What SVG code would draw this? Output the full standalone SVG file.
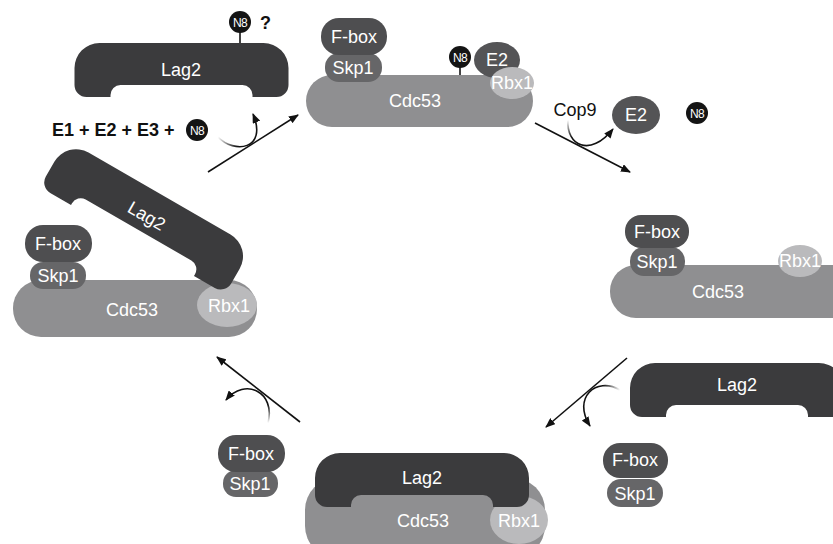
<svg xmlns="http://www.w3.org/2000/svg" width="833" height="544" viewBox="0 0 833 544">
  <defs>
    <style>
      .lag2 { fill: #3b3b3d; }
      .fbox { fill: #4e4e50; }
      .skp1 { fill: #666668; }
      .cdc53 { fill: #8f8f91; }
      .rbx1 { fill: #bababc; }
      .e2 { fill: #545456; }
      .n8 { fill: #141414; }
      .lbl { font-family: "Liberation Sans", Arial, sans-serif; font-size: 18px; fill: #ffffff; text-anchor: middle; }
      .n8t { font-family: "Liberation Sans", Arial, sans-serif; font-size: 12px; fill: #ffffff; text-anchor: middle; letter-spacing: -0.6px; }
      .blk { font-family: "Liberation Sans", Arial, sans-serif; font-size: 18px; fill: #111111; }
      .bold { font-weight: bold; }
      .stick { stroke: #141414; stroke-width: 1.6; }
      .arrow { fill: none; stroke: #111111; stroke-width: 1.6; marker-end: url(#head); }
    </style>
    <marker id="head" viewBox="0 0 10 8" refX="9" refY="4" markerWidth="10" markerHeight="8" markerUnits="userSpaceOnUse" orient="auto">
      <path d="M0,0 L10,4 L0,8 Z" fill="#111111"/>
    </marker>
    <!-- curved side arrows fade in at their tails -->
    <linearGradient id="fade1" gradientUnits="userSpaceOnUse" x1="218" y1="137" x2="236" y2="149">
      <stop offset="0" stop-color="#ffffff"/><stop offset="1" stop-color="#111111"/>
    </linearGradient>
    <linearGradient id="fade2" gradientUnits="userSpaceOnUse" x1="568" y1="120" x2="570" y2="138">
      <stop offset="0" stop-color="#ffffff"/><stop offset="1" stop-color="#111111"/>
    </linearGradient>
    <linearGradient id="fade3" gradientUnits="userSpaceOnUse" x1="620" y1="390" x2="603" y2="385">
      <stop offset="0" stop-color="#ffffff"/><stop offset="1" stop-color="#111111"/>
    </linearGradient>
    <linearGradient id="fade4" gradientUnits="userSpaceOnUse" x1="268" y1="423" x2="270" y2="405">
      <stop offset="0" stop-color="#ffffff"/><stop offset="1" stop-color="#111111"/>
    </linearGradient>
    <!-- Lag2 bar with its binding notch on the lower side, centred on 0,0 -->
    <path id="lag2shape" d="M -82,-27 H 82 A 25 25 0 0 1 107,-2 V 15 A 12 12 0 0 1 95,27 H 71 V 25 A 10 10 0 0 0 61,15 H -61 A 10 10 0 0 0 -71,25 V 27 H -95 A 12 12 0 0 1 -107,15 V -2 A 25 25 0 0 1 -82,-27 Z"/>
  </defs>

  <rect width="833" height="544" fill="#ffffff"/>

  <!-- Free Lag2 (top left), possibly neddylated -->
  <g id="lag2-free-top">
    <use href="#lag2shape" class="lag2" transform="translate(181.5,70)"/>
    <text class="lbl" x="181" y="76">Lag2</text>
    <line class="stick" x1="240" y1="32" x2="240" y2="43"/>
    <circle class="n8" cx="240" cy="22" r="11"/>
    <text class="n8t" x="240" y="26.5">N8</text>
    <text class="blk bold" x="260" y="29">?</text>
  </g>

  <!-- Reaction inputs -->
  <g id="inputs">
    <text class="blk bold" x="52" y="136">E1 + E2 + E3 +</text>
    <circle class="n8" cx="197" cy="130" r="11"/>
    <text class="n8t" x="197" y="134.5">N8</text>
  </g>

  <!-- Neddylated SCF with E2 (top) -->
  <g id="scf-neddylated">
    <rect class="cdc53" x="306" y="75" width="227" height="52" rx="26"/>
    <rect class="skp1" x="325" y="53" width="57" height="29" rx="14"/>
    <rect class="fbox" x="321" y="18" width="66" height="37" rx="18"/>
    <line class="stick" x1="460" y1="66" x2="460" y2="75"/>
    <circle class="n8" cx="460" cy="57" r="11"/>
    <ellipse class="e2" cx="497" cy="60" rx="23" ry="18"/>
    <ellipse class="rbx1" cx="512" cy="83" rx="22" ry="16"/>
    <text class="lbl" x="415" y="107">Cdc53</text>
    <text class="lbl" x="353" y="74">Skp1</text>
    <text class="lbl" x="354" y="43">F-box</text>
    <text class="n8t" x="460" y="61.5">N8</text>
    <text class="lbl" x="497" y="66">E2</text>
    <text class="lbl" x="512" y="89">Rbx1</text>
  </g>

  <!-- Products of Cop9 deneddylation -->
  <g id="cop9-products">
    <text class="blk" x="575" y="116" text-anchor="middle">Cop9</text>
    <ellipse class="e2" cx="636" cy="115" rx="24" ry="19"/>
    <text class="lbl" x="636" y="121">E2</text>
    <circle class="n8" cx="697" cy="113" r="11"/>
    <text class="n8t" x="697" y="117.5">N8</text>
  </g>

  <!-- Deneddylated SCF (right) -->
  <g id="scf-right">
    <rect class="cdc53" x="610" y="265" width="250" height="53" rx="26"/>
    <rect class="skp1" x="630" y="247" width="55" height="29" rx="14"/>
    <rect class="fbox" x="625" y="215" width="64" height="33" rx="16"/>
    <ellipse class="rbx1" cx="800" cy="261" rx="22" ry="16"/>
    <text class="lbl" x="718" y="298">Cdc53</text>
    <text class="lbl" x="657" y="268">Skp1</text>
    <text class="lbl" x="657" y="238">F-box</text>
    <text class="lbl" x="800" y="267">Rbx1</text>
  </g>

  <!-- Incoming Lag2 (right) -->
  <g id="lag2-incoming">
    <use href="#lag2shape" class="lag2" transform="translate(737,390)"/>
    <text class="lbl" x="737" y="391">Lag2</text>
  </g>

  <!-- Released F-box/Skp1 (lower right) -->
  <g id="fbox-skp1-released">
    <rect class="skp1" x="607" y="479" width="56" height="28" rx="14"/>
    <rect class="fbox" x="603" y="443" width="65" height="35" rx="17"/>
    <text class="lbl" x="635" y="466">F-box</text>
    <text class="lbl" x="635" y="500">Skp1</text>
  </g>

  <!-- Lag2-Cdc53-Rbx1 complex (bottom) -->
  <g id="lag2-cdc53">
    <rect class="cdc53" x="305" y="478" width="240" height="80" rx="32"/>
    <ellipse class="rbx1" cx="519" cy="520" rx="29" ry="24"/>
    <use href="#lag2shape" class="lag2" transform="translate(422,480)"/>
    <text class="lbl" x="422" y="484">Lag2</text>
    <text class="lbl" x="423" y="527">Cdc53</text>
    <text class="lbl" x="519" y="527">Rbx1</text>
  </g>

  <!-- F-box/Skp1 rejoining (lower left) -->
  <g id="fbox-skp1-rejoin">
    <rect class="skp1" x="223" y="470" width="55" height="27" rx="13"/>
    <rect class="fbox" x="218" y="435" width="67" height="37" rx="18"/>
    <text class="lbl" x="251" y="460">F-box</text>
    <text class="lbl" x="250" y="490">Skp1</text>
  </g>

  <!-- SCF with Lag2 releasing (left) -->
  <g id="scf-lag2-left">
    <rect class="cdc53" x="13" y="280" width="244" height="57" rx="28"/>
    <rect class="skp1" x="30" y="262" width="56" height="27" rx="13"/>
    <rect class="fbox" x="25" y="225" width="67" height="37" rx="18"/>
    <ellipse class="rbx1" cx="227" cy="305" rx="30" ry="22"/>
    <use href="#lag2shape" class="lag2" transform="translate(146,217) rotate(30)"/>
    <text class="lbl" transform="translate(146,217) rotate(30)" x="0" y="5">Lag2</text>
    <text class="lbl" x="132" y="316">Cdc53</text>
    <text class="lbl" x="58" y="282">Skp1</text>
    <text class="lbl" x="58" y="250">F-box</text>
    <text class="lbl" x="229" y="312">Rbx1</text>
  </g>

  <!-- Reaction arrows -->
  <g id="connectors">
    <path class="arrow" d="M 208,172 L 298,115"/>
    <path class="arrow" stroke="url(#fade1)" style="stroke:url(#fade1)" d="M 218,137 C 234,154 268,150 253,114"/>
    <path class="arrow" d="M 535,123 L 630,172"/>
    <path class="arrow" style="stroke:url(#fade2)" d="M 568,120 C 566,145 590,158 613,129"/>
    <path class="arrow" d="M 627,358 L 546,427"/>
    <path class="arrow" style="stroke:url(#fade3)" d="M 620,390 C 596,376 572,398 590,426"/>
    <path class="arrow" d="M 300,422 L 217,357"/>
    <path class="arrow" style="stroke:url(#fade4)" d="M 268,423 C 276,392 245,377 226,400"/>
  </g>
</svg>
